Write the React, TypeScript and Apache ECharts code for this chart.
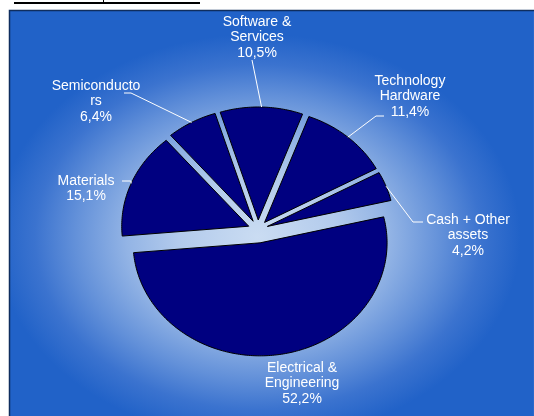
import React, { useEffect, useRef } from "react";
import * as echarts from "echarts";

// ---- data ----
const categories = [
  "Materials",
  "Semiconductors",
  "Software & Services",
  "Technology Hardware",
  "Cash + Other assets",
  "Electrical & Engineering",
];
const labelNames = [
  "Materials",
  "Semiconducto\nrs",
  "Software &\nServices",
  "Technology\nHardware",
  "Cash + Other\nassets",
  "Electrical &\nEngineering",
];
const shares = [15.1, 6.4, 10.5, 11.4, 4.2, 52.2];

// ---- layout / style ----
const CX = 258;
const CY = 230;
const RX = 127;
const RY = 113;
const START = 185;
const explode = [10, 10, 10, 10, 10, 13];
const labelLayout: { x: number; y: number; bend: number[][] | null }[] = [
  { x: 86, y: 172, bend: [[122, 181], [131, 181]] },
  { x: 96, y: 77, bend: [[124, 93], [131, 93]] },
  { x: 257, y: 13, bend: [[252, 60]] },
  { x: 410, y: 72, bend: [[384, 116], [376, 116]] },
  { x: 468, y: 211, bend: [[423, 222], [413, 222]] },
  { x: 302, y: 359, bend: null },
];

const fmt = (v: number) => v.toFixed(1).replace(".", ",") + "%";

export default function App() {
  const ref = useRef<HTMLDivElement>(null);
  useEffect(() => {
    if (!ref.current) return;
    const chart = echarts.init(ref.current, undefined, { renderer: "svg" });
    const total = shares.reduce((a, b) => a + b, 0);
    const data = shares.map((v, i) => ({
      name: categories[i],
      value: [v, shares.slice(0, i).reduce((a, b) => a + b, 0)],
    }));

    const boxW = 525;
    const boxH = 406;
    chart.setOption({
      animation: false,
      graphic: [
        {
          type: "rect",
          z: -10,
          silent: true,
          x: 9,
          y: 10,
          scaleX: boxW / boxH,
          shape: { x: 0, y: 0, width: boxH, height: boxH },
          style: {
            fill: new echarts.graphic.RadialGradient(
              (CX - 9) / boxW,
              (CY + 7 - 10) / boxH,
              0.5,
              [
                { offset: 0, color: "#cadcf2" },
                { offset: 0.3, color: "#b3cbec" },
                { offset: 0.5, color: "#93b4e5" },
                { offset: 0.7, color: "#6290d9" },
                { offset: 0.85, color: "#3b73cf" },
                { offset: 1, color: "#2162c8" },
              ]
            ),
          },
        },
        {
          type: "rect",
          z: -9,
          silent: true,
          shape: { x: 9.5, y: 10.5, width: 540, height: 420 },
          style: { fill: "none", stroke: "#0f2d5e", lineWidth: 1.5 },
        },
        {
          type: "rect",
          silent: true,
          shape: { x: 14, y: 2, width: 186, height: 2 },
          style: { fill: "#000" },
        },
        {
          type: "rect",
          silent: true,
          shape: { x: 103, y: 0, width: 1, height: 2 },
          style: { fill: "#000" },
        },
      ],
      series: [
        {
          type: "custom",
          coordinateSystem: "none",
          data,
          renderItem: (params: any, api: any) => {
            const i = params.dataIndex;
            const v = api.value(0);
            const before = api.value(1);
            const a0 = START - (before / total) * 360;
            const a1 = a0 - (v / total) * 360;
            const mid = (((a0 + a1) / 2) * Math.PI) / 180;
            const off = explode[i];
            const cx = CX + off * Math.cos(mid);
            const cy = CY - off * Math.sin(mid);
            const pts: number[][] = [[cx, cy]];
            const n = Math.max(6, Math.ceil(a0 - a1));
            for (let k = 0; k <= n; k++) {
              const a = ((a0 - ((a0 - a1) * k) / n) * Math.PI) / 180;
              pts.push([cx + RX * Math.cos(a), cy - RY * Math.sin(a)]);
            }
            const edge = [cx + RX * Math.cos(mid), cy - RY * Math.sin(mid)];
            const lay = labelLayout[i];
            const children: any[] = [
              {
                type: "polygon",
                shape: { points: pts },
                style: { fill: "#000080", stroke: "#000", lineWidth: 1 },
              },
              {
                type: "text",
                style: {
                  x: lay.x,
                  y: lay.y,
                  text: labelNames[i] + "\n" + fmt(v),
                  fill: "#ffffff",
                  fontSize: 14,
                  fontFamily: "'Liberation Sans', Arial, sans-serif",
                  align: "center",
                  verticalAlign: "top",
                  lineHeight: 15.5,
                },
              },
            ];
            if (lay.bend) {
              children.push({
                type: "polyline",
                shape: { points: [...lay.bend, edge] },
                style: { stroke: "#ffffff", lineWidth: 1, fill: null },
              });
            }
            return { type: "group", children };
          },
        },
      ],
    });
    return () => chart.dispose();
  }, []);
  return (
    <div
      ref={ref}
      style={{ position: "fixed", left: 0, top: 0, width: 534, height: 416 }}
    />
  );
}
